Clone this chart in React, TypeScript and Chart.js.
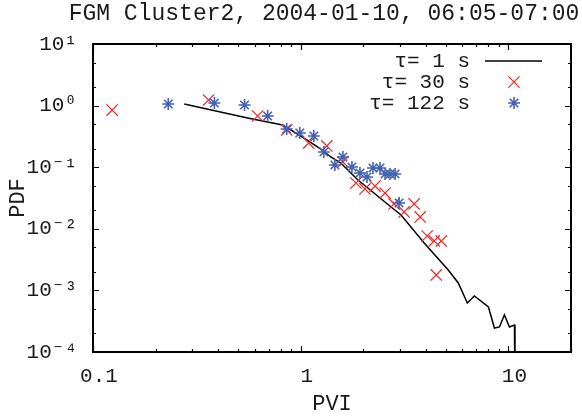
import React, { useEffect, useRef } from 'react';
import { Chart, registerables } from 'chart.js';

Chart.register(...registerables);

const titleText = 'FGM Cluster2, 2004-01-10, 06:05-07:00';
const xLabel = 'PVI';
const yLabel = 'PDF';
const legendLabels = ['τ= 1 s', 'τ= 30 s', 'τ= 122 s'];

// tau = 1 s (line)
const tau1X = [0.275, 0.555, 0.818, 0.895, 1.093, 1.249, 1.396, 1.56, 1.886, 2.252, 2.722, 3.041, 3.929, 5.13, 5.734, 6.338, 6.852, 8.008, 8.56, 9.05, 9.56, 10.11, 10.69, 10.75];
const tau1Y = [1.062, 0.629, 0.484, 0.402, 0.266, 0.1974, 0.1465, 0.117, 0.062, 0.0381, 0.0226, 0.01675, 0.00588, 0.002145, 0.001318, 0.000624, 0.000811, 0.000538, 0.000245, 0.000255, 0.000399, 0.000255, 0.000274, 0.00001];

// tau = 30 s (crosses)
const tau30X = [0.1236, 0.36, 0.62, 0.856, 1.093, 1.335, 1.596, 1.844, 2.038, 2.278, 2.546, 2.814, 3.145, 3.515, 3.757, 4.06, 4.39, 4.75, 4.49];
const tau30Y = [0.848, 1.233, 0.678, 0.402, 0.247, 0.221, 0.1215, 0.0554, 0.0443, 0.0495, 0.0381, 0.0253, 0.01875, 0.0253, 0.01556, 0.00764, 0.00634, 0.00634, 0.00178];

// tau = 122 s (asterisks)
const tau122X = [0.2303, 0.384, 0.5365, 0.693, 0.856, 0.989, 1.156, 1.292, 1.46, 1.596, 1.764, 1.928, 2.084, 2.227, 2.408, 2.546, 2.69, 2.846, 2.975];
const tau122Y = [1.062, 1.1, 1.023, 0.678, 0.417, 0.359, 0.321, 0.1766, 0.1086, 0.1465, 0.1008, 0.0805, 0.0693, 0.097, 0.097, 0.0776, 0.0776, 0.0776, 0.0262];

const xTicks = [0.1, 1, 10];
const xTickLabels = ['0.1', '1', '10'];
const yTicks = [1e-4, 1e-3, 1e-2, 1e-1, 1, 10];
const yTickLabels = ['10⁻⁴', '10⁻³', '10⁻²', '10⁻¹', '10⁰', '10¹'];
const xMinorFactors = [2, 3, 4, 5, 6, 7, 8, 9];
const yMinorFactors = [2, 5];
const xMin = 0.1, xMax = 20, yMin = 1e-4, yMax = 10;

const FONT = '"Liberation Mono", "DejaVu Sans Mono", monospace';
const TEXT = '#1a1a1a';
const RED = '#ee2a2a';
const BLUE = '#4262b2';

const toPts = (xs: number[], ys: number[]) => xs.map((x, i) => ({ x, y: ys[i] }));

const decorPlugin = {
  id: 'decor',
  afterDraw(chart: any) {
    const { ctx, chartArea: a, scales } = chart;
    const sx = scales.x, sy = scales.y;
    ctx.save();
    // frame
    ctx.strokeStyle = '#000';
    ctx.lineWidth = 2;
    ctx.strokeRect(a.left, a.top, a.right - a.left, a.bottom - a.top);
    // ticks
    ctx.lineWidth = 1.2;
    const major = 6, minor = 3;
    const xt: [number, number][] = [];
    xTicks.forEach((v) => {
      xt.push([v, major]);
      xMinorFactors.forEach((f) => xt.push([v * f, minor]));
    });
    xt.forEach(([v, len]) => {
      if (v < xMin || v > xMax) return;
      const px = Math.round(sx.getPixelForValue(v)) + 0.5;
      ctx.beginPath();
      ctx.moveTo(px, a.bottom);
      ctx.lineTo(px, a.bottom - len);
      ctx.moveTo(px, a.top);
      ctx.lineTo(px, a.top + len);
      ctx.stroke();
    });
    const yt: [number, number][] = [];
    yTicks.forEach((v) => {
      yt.push([v, major]);
      yMinorFactors.forEach((f) => yt.push([v * f, minor]));
    });
    yt.forEach(([v, len]) => {
      if (v < yMin || v > yMax) return;
      const py = Math.round(sy.getPixelForValue(v)) + 0.5;
      ctx.beginPath();
      ctx.moveTo(a.left, py);
      ctx.lineTo(a.left + len, py);
      ctx.moveTo(a.right, py);
      ctx.lineTo(a.right - len, py);
      ctx.stroke();
    });
    // title
    ctx.fillStyle = TEXT;
    ctx.font = `23px ${FONT}`;
    ctx.textAlign = 'center';
    ctx.textBaseline = 'middle';
    ctx.fillText(titleText, (a.left + a.right) / 2 - 8, 14);
    // legend
    ctx.font = `21px ${FONT}`;
    ctx.textAlign = 'right';
    const rows = [61, 82, 103];
    const textRight = 470;
    const sampleX = 514;
    legendLabels.forEach((t, i) => ctx.fillText(t, textRight, rows[i]));
    ctx.strokeStyle = '#000';
    ctx.lineWidth = 1.5;
    ctx.beginPath();
    ctx.moveTo(485, rows[0]);
    ctx.lineTo(542, rows[0]);
    ctx.stroke();
    // cross
    ctx.strokeStyle = RED;
    ctx.lineWidth = 1.3;
    const r = 5.6;
    ctx.beginPath();
    ctx.moveTo(sampleX - r, rows[1] - r);
    ctx.lineTo(sampleX + r, rows[1] + r);
    ctx.moveTo(sampleX + r, rows[1] - r);
    ctx.lineTo(sampleX - r, rows[1] + r);
    ctx.stroke();
    // star
    ctx.strokeStyle = BLUE;
    ctx.lineWidth = 1.6;
    const s = 6, d = 6 * Math.SQRT1_2;
    const cy = rows[2];
    ctx.beginPath();
    ctx.moveTo(sampleX - s, cy);
    ctx.lineTo(sampleX + s, cy);
    ctx.moveTo(sampleX, cy - s);
    ctx.lineTo(sampleX, cy + s);
    ctx.moveTo(sampleX - d, cy - d);
    ctx.lineTo(sampleX + d, cy + d);
    ctx.moveTo(sampleX + d, cy - d);
    ctx.lineTo(sampleX - d, cy + d);
    ctx.stroke();
    ctx.restore();
  },
};

export default function App() {
  const ref = useRef<HTMLCanvasElement | null>(null);
  useEffect(() => {
    if (!ref.current) return;
    const chart = new Chart(ref.current, {
      type: 'scatter',
      data: {
        datasets: [
          {
            label: legendLabels[0],
            data: toPts(tau1X, tau1Y),
            showLine: true,
            borderColor: '#000',
            borderWidth: 1.5,
            pointRadius: 0,
            order: 3,
          },
          {
            label: legendLabels[1],
            data: toPts(tau30X, tau30Y),
            pointStyle: 'crossRot',
            pointRadius: 8,
            borderColor: RED,
            backgroundColor: RED,
            borderWidth: 1.3,
            order: 2,
          },
          {
            label: legendLabels[2],
            data: toPts(tau122X, tau122Y),
            pointStyle: 'star',
            pointRadius: 6,
            borderColor: BLUE,
            backgroundColor: BLUE,
            borderWidth: 1.6,
            order: 1,
          },
        ],
      } as any,
      options: {
        responsive: false,
        animation: false,
        devicePixelRatio: 1,
        layout: { padding: { top: 44, right: 11, left: 0, bottom: 0 } },
        plugins: { legend: { display: false }, tooltip: { enabled: false }, title: { display: false } },
        scales: {
          x: {
            type: 'logarithmic',
            position: 'bottom',
            min: xMin,
            max: xMax,
            grid: { display: false },
            border: { display: false },
            afterBuildTicks: (s: any) => { s.ticks = xTicks.map((v) => ({ value: v })); },
            afterFit: (s: any) => { s.height = 65; },
            ticks: {
              autoSkip: false,
              maxRotation: 0,
              padding: 4,
              labelOffset: 6,
              color: TEXT,
              font: { family: FONT, size: 21 },
              callback: (v: any) => { const i = xTicks.indexOf(Number(v)); return i >= 0 ? xTickLabels[i] : ''; },
            },
            title: { display: true, text: xLabel, color: TEXT, font: { family: FONT, size: 22 }, padding: { top: 0, bottom: 0 } },
          },
          y: {
            type: 'logarithmic',
            position: 'left',
            min: yMin,
            max: yMax,
            grid: { display: false },
            border: { display: false },
            afterBuildTicks: (s: any) => { s.ticks = yTicks.map((v) => ({ value: v })); },
            afterFit: (s: any) => { s.width = 93; },
            ticks: {
              autoSkip: false,
              padding: 8,
              color: TEXT,
              font: { family: FONT, size: 21 },
              callback: (v: any) => {
                const i = yTicks.findIndex((t) => Math.abs(Math.log10(t) - Math.log10(Number(v))) < 1e-6);
                return i >= 0 ? yTickLabels[i] : '';
              },
            },
            title: { display: true, text: yLabel, color: TEXT, font: { family: FONT, size: 22 }, padding: { top: 5, bottom: 0 } },
          },
        },
      } as any,
      plugins: [decorPlugin],
    });
    return () => chart.destroy();
  }, []);
  return (
    <canvas ref={ref} width={582} height={417} style={{ position: 'fixed', left: 0, top: 0, background: '#fff' }} />
  );
}
